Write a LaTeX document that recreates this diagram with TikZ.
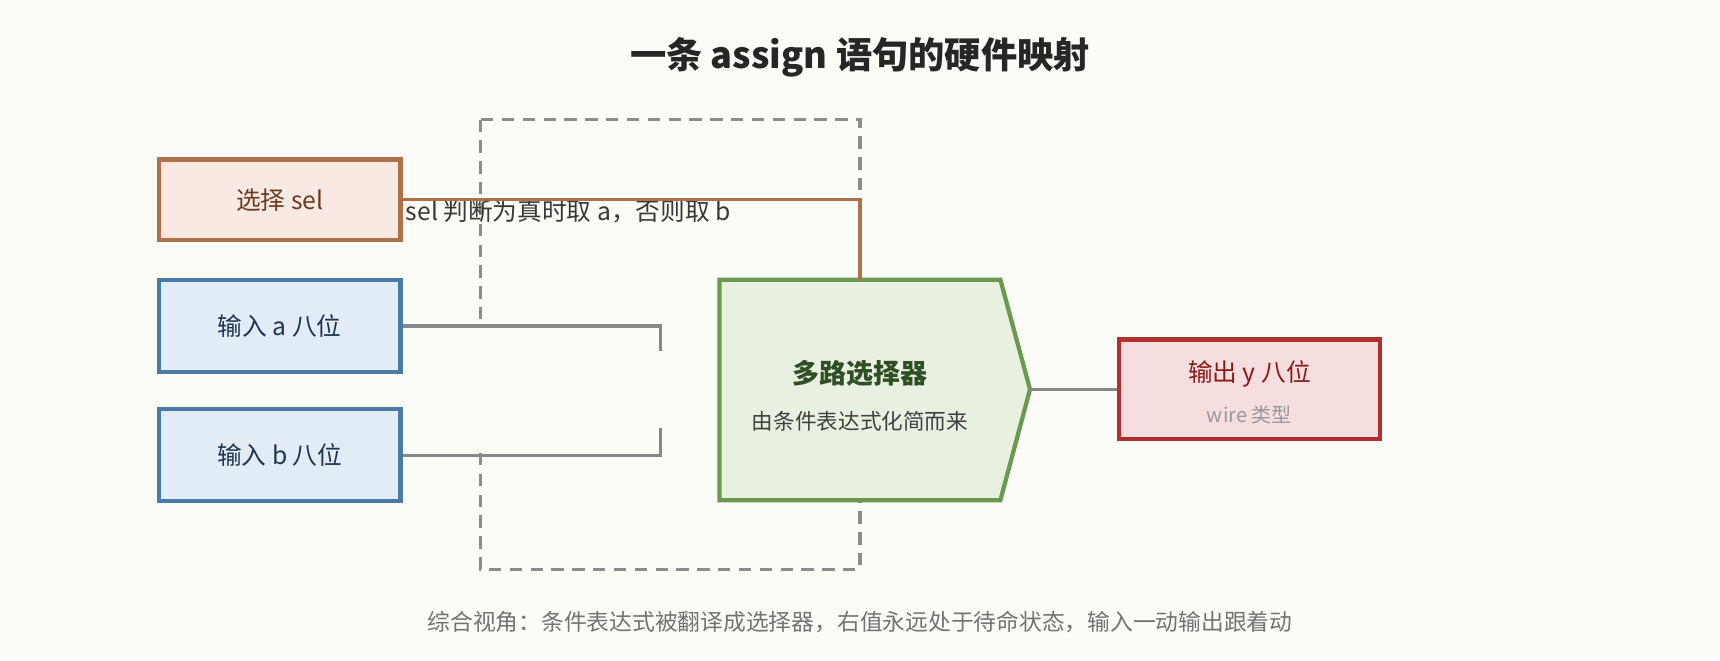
\documentclass[tikz,border=0pt]{standalone}
\usepackage{fontspec}
\setmainfont{Noto Sans CJK SC}
\definecolor{bg}{HTML}{FBFBF7}
\definecolor{selD}{HTML}{B07048}\definecolor{selF}{HTML}{F8EAE3}\definecolor{selT}{HTML}{6B3A1E}
\definecolor{inD}{HTML}{4A7BA8}\definecolor{inF}{HTML}{E2ECF6}\definecolor{inT}{HTML}{1F3550}
\definecolor{muxD}{HTML}{6A9A50}\definecolor{muxF}{HTML}{E8F0E0}\definecolor{muxT}{HTML}{2F4F25}
\definecolor{outD}{HTML}{B03030}\definecolor{outF}{HTML}{F6DEDE}\definecolor{outT}{HTML}{8B1A1A}
\begin{document}
\begin{tikzpicture}[x=0.01cm,y=-0.01cm,
  box/.style={draw,line width=1.1pt,minimum width=2.2cm,inner sep=0,font=\fontsize{6.4pt}{7pt}\selectfont},
  lbl/.style={font=\fontsize{6.4pt}{7pt}\selectfont},
  wire/.style={draw=black!47,line width=0.9pt},
]
\useasboundingbox[fill=bg] (0,0) rectangle (1568,602);
\node[font=\fontsize{9.4pt}{11pt}\selectfont\bfseries,text=black!85] (title) at (784,52) {一条 assign 语句的硬件映射};
% dashed frame
\draw[black!45,line width=0.8pt,dash pattern=on 3.2pt off 2.2pt] (438,109) rectangle (784,519);
\fill[bg] (420,299) rectangle (612,413);
% sel label (partly hidden)
\node[lbl,text=black!78] (sellbl) at (518,193) {sel 判断为真时取 a，否则取 b};
% boxes
\node[box,draw=selD,fill=selF,text=selT,minimum height=0.73cm] (sel) at (255,182) {选择 sel};
\node[box,draw=inD,fill=inF,text=inT,minimum height=0.84cm] (a) at (255,297) {输入 a 八位};
\node[box,draw=inD,fill=inF,text=inT,minimum height=0.84cm] (b) at (255,415) {输入 b 八位};
\node[box,draw=outD,fill=outF,minimum width=2.38cm,minimum height=0.91cm] (out) at (1139,355) {};
\node[lbl,text=outT] (outt) at (1139,341) {输出 y 八位};
\node[font=\fontsize{5.2pt}{6pt}\selectfont,text=black!40] (outs) at (1139,378) {wire 类型};
% mux
\coordinate (m1) at (656,255);\coordinate (m2) at (912,255);\coordinate (mtip) at (939,355);
\coordinate (m4) at (912,456);\coordinate (m5) at (656,456);
\draw[draw=muxD,fill=muxF,line width=1.1pt,line join=miter] (m1)--(m2)--(mtip)--(m4)--(m5)--cycle;
\node[font=\fontsize{7pt}{8pt}\selectfont\bfseries,text=muxT] (mux) at (784,340) {多路选择器};
\node[font=\fontsize{5.6pt}{6.5pt}\selectfont,text=black!75] (muxs) at (784,384) {由条件表达式化简而来};
\coordinate (muxtop) at (784,255);
\coordinate (ea) at (602,320);\coordinate (eb) at (602,390);
% wires
\draw[draw=selD,line width=0.9pt] (sel.east) -| (muxtop);
\draw[wire] (a.east) -| (ea);
\draw[wire] (b.east) -| (eb);
\draw[wire] (mtip) -- (out.west);
\node[font=\fontsize{5.9pt}{7pt}\selectfont,text=black!55] (foot) at (784,567) {综合视角：条件表达式被翻译成选择器，右值永远处于待命状态，输入一动输出跟着动};
\end{tikzpicture}
\end{document}
